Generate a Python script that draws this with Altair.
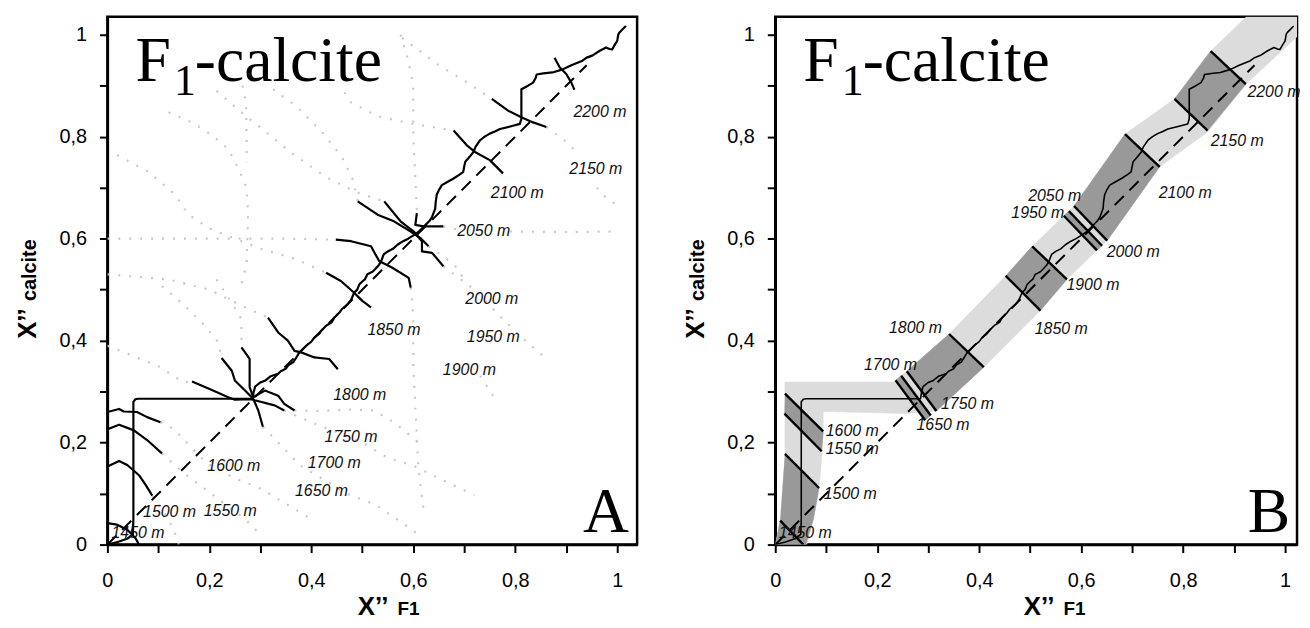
import altair as alt
import pandas as pd

XMAX_A = 1.039
XMAX_B = 1.0234
YMAX = 1.035

# ---------------- main path (same on both panels) ----------------
path_x = [0, 0.02, 0.04, 0.05, 0.051, 0.051, 0.055, 0.06, 0.15, 0.285, 0.287, 0.29, 0.30, 0.31, 0.32,
          0.335, 0.34, 0.35, 0.355, 0.365, 0.37, 0.376, 0.385, 0.39, 0.40, 0.405, 0.415, 0.42, 0.43,
          0.44, 0.445, 0.455, 0.46, 0.47, 0.478, 0.484, 0.49, 0.494, 0.50, 0.505, 0.51, 0.52, 0.525,
          0.533, 0.537, 0.542, 0.55, 0.56, 0.569, 0.58, 0.59, 0.601, 0.61, 0.617, 0.625, 0.632, 0.637,
          0.643, 0.644, 0.646, 0.65, 0.656, 0.665, 0.679, 0.69, 0.698, 0.70, 0.702, 0.71, 0.718, 0.722,
          0.731, 0.74, 0.75, 0.76, 0.77, 0.79, 0.809, 0.812, 0.812, 0.812, 0.825, 0.835, 0.84, 0.842,
          0.855, 0.873, 0.893, 0.91, 0.932, 0.94, 0.951, 0.965, 0.978, 0.985, 0.99, 0.995, 1.0, 1.002,
          1.004, 1.01, 1.017]
path_y = [0, 0.005, 0.012, 0.02, 0.05, 0.28, 0.285, 0.286, 0.286, 0.286, 0.30, 0.31, 0.318, 0.322, 0.33,
          0.335, 0.34, 0.345, 0.352, 0.358, 0.366, 0.376, 0.385, 0.39, 0.398, 0.405, 0.413, 0.42, 0.43,
          0.436, 0.445, 0.455, 0.462, 0.47, 0.48, 0.494, 0.50, 0.51, 0.516, 0.52, 0.53, 0.535, 0.54,
          0.549, 0.556, 0.569, 0.575, 0.58, 0.588, 0.595, 0.60, 0.607, 0.613, 0.62, 0.628, 0.635, 0.643,
          0.659, 0.672, 0.686, 0.695, 0.705, 0.71, 0.718, 0.725, 0.731, 0.742, 0.751, 0.76, 0.77, 0.78,
          0.793, 0.80, 0.806, 0.81, 0.815, 0.82, 0.825, 0.835, 0.848, 0.893, 0.90, 0.906, 0.915, 0.922,
          0.924, 0.926, 0.932, 0.94, 0.949, 0.955, 0.959, 0.968, 0.975, 0.972, 0.971, 0.98, 0.988, 1.0,
          1.004, 1.01, 1.017]

diag_x = [0.0, 0.94]
diag_y = [0.0, 0.94]

# ---------------- panel A: solid depth contours ----------------
solid_A = [
    [(0, 0.042), (0.019, 0.039), (0.039, 0.029), (0.055, 0.013), (0.062, 0.0)],
    [(0, 0.153), (0.023, 0.164), (0.039, 0.156), (0.062, 0.136), (0.075, 0.117), (0.088, 0.096)],
    [(0, 0.226), (0.023, 0.235), (0.052, 0.224), (0.078, 0.205), (0.107, 0.179)],
    [(0, 0.26), (0.023, 0.266), (0.032, 0.261), (0.058, 0.26), (0.078, 0.25), (0.104, 0.24)],
    [(0.166, 0.320), (0.205, 0.303), (0.237, 0.289), (0.250, 0.284), (0.283, 0.285), (0.289, 0.283),
     (0.328, 0.273), (0.347, 0.263)],
    [(0.224, 0.366), (0.244, 0.341), (0.250, 0.322), (0.270, 0.302), (0.286, 0.286), (0.296, 0.263),
     (0.305, 0.231)],
    [(0.263, 0.387), (0.279, 0.364), (0.279, 0.309), (0.286, 0.289), (0.309, 0.302), (0.335, 0.292),
     (0.347, 0.276), (0.367, 0.263)],
    [(0.315, 0.445), (0.335, 0.416), (0.354, 0.400), (0.367, 0.380), (0.380, 0.377), (0.406, 0.367),
     (0.435, 0.364), (0.452, 0.344)],
    [(0.429, 0.533), (0.458, 0.517), (0.484, 0.494), (0.500, 0.478), (0.517, 0.465)],
    [(0.448, 0.598), (0.478, 0.595), (0.517, 0.585), (0.533, 0.556), (0.559, 0.543), (0.591, 0.523),
     (0.595, 0.504)],
    [(0.543, 0.673), (0.575, 0.634), (0.601, 0.614), (0.617, 0.595), (0.617, 0.575), (0.637, 0.572),
     (0.659, 0.546)],
    [(0.491, 0.673), (0.530, 0.647), (0.562, 0.634), (0.595, 0.614), (0.614, 0.601), (0.630, 0.585)],
    [(0.607, 0.650), (0.604, 0.627), (0.620, 0.624), (0.659, 0.624)],
    [(0.679, 0.812), (0.705, 0.783), (0.721, 0.770), (0.750, 0.754), (0.776, 0.728)],
    [(0.754, 0.874), (0.786, 0.851), (0.812, 0.838), (0.835, 0.828), (0.861, 0.819)],
    [(0.877, 0.955), (0.887, 0.936), (0.900, 0.923), (0.910, 0.906), (0.916, 0.892)],
]

# ---------------- panel A: dotted (extrapolated) contours ----------------
dotted_A = [
    [(0.088, 0.096), (0.11, 0.065), (0.13, 0.03), (0.14, 0.0)],
    [(0.107, 0.179), (0.15, 0.14), (0.19, 0.11), (0.23, 0.08), (0.27, 0.05), (0.3, 0.02)],
    [(0.104, 0.24), (0.13, 0.227), (0.165, 0.19), (0.195, 0.159), (0.25, 0.13), (0.3, 0.11),
     (0.35, 0.08), (0.4, 0.05)],
    [(0.0, 0.39), (0.05, 0.37), (0.1, 0.35), (0.149, 0.318), (0.166, 0.32)],
    [(0.107, 0.507), (0.15, 0.47), (0.19, 0.43), (0.218, 0.396), (0.224, 0.366)],
    [(0.214, 0.52), (0.24, 0.48), (0.263, 0.442), (0.263, 0.387)],
    [(0.347, 0.263), (0.4, 0.24), (0.45, 0.22), (0.5, 0.2), (0.55, 0.17), (0.6, 0.155), (0.65, 0.13),
     (0.72, 0.097)],
    [(0.305, 0.231), (0.345, 0.19), (0.377, 0.156), (0.42, 0.13), (0.47, 0.1), (0.526, 0.078),
     (0.575, 0.045), (0.61, 0.02)],
    [(0.367, 0.263), (0.42, 0.262), (0.48, 0.265), (0.523, 0.263), (0.565, 0.238), (0.61, 0.2)],
    [(0.595, 0.504), (0.6, 0.45), (0.6, 0.35), (0.605, 0.25), (0.61, 0.15), (0.62, 0.07)],
    [(0.0, 0.53), (0.06, 0.525), (0.12, 0.52), (0.2, 0.5), (0.26, 0.47), (0.315, 0.445)],
    [(0.019, 0.764), (0.081, 0.731), (0.133, 0.686), (0.159, 0.647), (0.2, 0.62), (0.3, 0.58),
     (0.37, 0.56), (0.429, 0.533)],
    [(0.0, 0.60), (0.2, 0.6), (0.35, 0.6), (0.448, 0.598)],
    [(0.12, 0.848), (0.166, 0.828), (0.205, 0.803), (0.237, 0.776), (0.257, 0.737), (0.273, 0.7),
     (0.276, 0.65), (0.273, 0.55), (0.26, 0.5)],
    [(0.265, 0.9), (0.272, 0.867), (0.273, 0.8), (0.273, 0.75)],
    [(0.214, 0.89), (0.26, 0.85), (0.31, 0.81), (0.364, 0.766), (0.43, 0.72), (0.491, 0.69),
     (0.543, 0.673)],
    [(0.325, 0.893), (0.37, 0.86), (0.42, 0.81), (0.46, 0.76), (0.48, 0.72), (0.491, 0.673)],
    [(0.659, 0.546), (0.72, 0.5), (0.776, 0.442), (0.82, 0.4), (0.858, 0.367)],
    [(0.630, 0.585), (0.68, 0.55), (0.7, 0.52)],
    [(0.659, 0.624), (0.69, 0.617)],
    [(0.79, 0.614), (0.9, 0.613), (1.0, 0.614)],
    [(0.575, 1.0), (0.59, 0.95), (0.6, 0.9), (0.6, 0.8), (0.605, 0.7), (0.607, 0.65)],
    [(0.465, 0.887), (0.478, 0.867), (0.53, 0.84), (0.6, 0.825), (0.679, 0.812)],
    [(0.578, 0.994), (0.65, 0.94), (0.7, 0.91), (0.754, 0.874)],
    [(0.861, 0.819), (0.9, 0.79), (0.92, 0.77)],
    [(0.96, 0.7), (0.98, 0.678), (1.01, 0.66)],
    [(0.731, 0.331), (0.745, 0.31), (0.76, 0.287)],
]

# ---------------- depth labels ----------------
depths = ["1450 m", "1500 m", "1550 m", "1600 m", "1650 m", "1700 m", "1750 m", "1800 m",
          "1850 m", "1900 m", "1950 m", "2000 m", "2050 m", "2100 m", "2150 m", "2200 m"]
labA_x = [0.060, 0.122, 0.241, 0.248, 0.420, 0.445, 0.478, 0.495,
          0.562, 0.710, 0.757, 0.754, 0.738, 0.804, 0.958, 0.966]
labA_y = [0.023, 0.063, 0.065, 0.155, 0.106, 0.159, 0.211, 0.294,
          0.420, 0.343, 0.408, 0.482, 0.615, 0.689, 0.737, 0.849]
labB_x = [0.059, 0.147, 0.151, 0.151, 0.329, 0.226, 0.377, 0.275,
          0.561, 0.623, 0.515, 0.702, 0.548, 0.804, 0.906, 0.978]
labB_y = [0.023, 0.099, 0.187, 0.222, 0.235, 0.353, 0.275, 0.424,
          0.423, 0.510, 0.650, 0.573, 0.683, 0.689, 0.792, 0.887]

# ---------------- panel B: band and depth ticks ----------------
light_band = [(0.0, 0.0), (0.062, 0.0), (0.081, 0.086), (0.088, 0.131), (0.094, 0.215), (0.094, 0.261),
              (0.257, 0.257), (0.316, 0.262), (0.409, 0.348), (0.520, 0.459), (0.572, 0.520),
              (0.650, 0.596), (0.754, 0.741), (0.848, 0.809), (0.923, 0.903), (1.0234, 0.996),
              (1.0234, 1.035), (0.924, 1.035), (0.854, 0.968), (0.783, 0.874), (0.686, 0.805),
              (0.586, 0.664), (0.566, 0.645), (0.504, 0.585), (0.452, 0.527), (0.341, 0.413),
              (0.258, 0.340), (0.231, 0.319), (0.019, 0.319), (0.019, 0.177), (0.0097, 0.047)]
dark_bands = [
    [(0.019, 0.178), (0.086, 0.111), (0.075, 0.05), (0.06, 0.0), (0.0, 0.0), (0.0097, 0.047)],
    [(0.019, 0.296), (0.094, 0.222), (0.091, 0.183), (0.018, 0.257)],
    [(0.236, 0.322), (0.247, 0.331), (0.305, 0.253), (0.294, 0.244)],
    [(0.258, 0.340), (0.341, 0.413), (0.409, 0.348), (0.316, 0.262)],
    [(0.452, 0.527), (0.504, 0.585), (0.572, 0.520), (0.520, 0.459)],
    [(0.566, 0.645), (0.576, 0.654), (0.641, 0.586), (0.631, 0.577)],
    [(0.586, 0.664), (0.686, 0.805), (0.754, 0.741), (0.651, 0.596)],
    [(0.783, 0.874), (0.854, 0.968), (0.923, 0.903), (0.848, 0.812)],
]
ticks_B = [
    [(0.0097, 0.047), (0.055, 0.0)],
    [(0.019, 0.178), (0.086, 0.111)],
    [(0.018, 0.257), (0.091, 0.183)],
    [(0.019, 0.296), (0.094, 0.222)],
    [(0.236, 0.322), (0.294, 0.244)],
    [(0.247, 0.331), (0.305, 0.253)],
    [(0.258, 0.340), (0.316, 0.262)],
    [(0.341, 0.413), (0.409, 0.348)],
    [(0.452, 0.527), (0.520, 0.459)],
    [(0.504, 0.585), (0.572, 0.520)],
    [(0.566, 0.645), (0.631, 0.577)],
    [(0.576, 0.654), (0.641, 0.586)],
    [(0.586, 0.664), (0.651, 0.596)],
    [(0.686, 0.805), (0.754, 0.741)],
    [(0.783, 0.874), (0.848, 0.812)],
    [(0.854, 0.968), (0.923, 0.903)],
]

# ---------------- title pieces ----------------
title_parts = ["F", "1", "-calcite"]
title_x = [0.055, 0.1306, 0.1715]
title_y = [0.909, 0.881, 0.909]
title_size = [64, 44, 64]


def seg_df(segs):
    rows = []
    for i, seg in enumerate(segs):
        for j, (x, y) in enumerate(seg):
            rows.append({"id": i, "o": j, "x": x, "y": y})
    return pd.DataFrame(rows)


tick_vals = [round(i * 0.1, 1) for i in range(11)]
label_expr = "round(datum.value*10) % 2 == 0 ? replace(format(datum.value, '~g'), '.', ',') : ''"
yscale = alt.Scale(domain=[0, YMAX], nice=False, zero=False)
Y = alt.Y("y:Q", scale=yscale,
          axis=alt.Axis(values=tick_vals, labelExpr=label_expr, title=None, labelOverlap=False,
                        ticks=True, tickSize=8, tickWidth=2, tickColor="black", labelPadding=13))


def make_x(xmax):
    return alt.X("x:Q", scale=alt.Scale(domain=[0, xmax], nice=False, zero=False),
                 axis=alt.Axis(values=tick_vals, labelExpr=label_expr, title=None, labelFlush=False,
                               labelOverlap=False, ticks=True, tickSize=8, tickWidth=2,
                               tickColor="black", labelPadding=18))


path_df = pd.DataFrame({"x": path_x, "y": path_y, "o": range(len(path_x))})
diag_df = pd.DataFrame({"x": diag_x, "y": diag_y, "o": [0, 1]})


def common_layers(X, path_width):
    diag = alt.Chart(diag_df).mark_line(color="black", strokeWidth=2, strokeDash=[13, 8], clip=True).encode(
        x=X, y=Y, order="o:Q")
    path = alt.Chart(path_df).mark_line(color="black", strokeWidth=path_width, clip=True,
                                        strokeJoin="round").encode(x=X, y=Y, order="o:Q")
    return diag, path


def title_layer(X):
    tdf = pd.DataFrame({"x": title_x, "y": title_y, "t": title_parts, "s": title_size})
    return alt.Chart(tdf).mark_text(font="Liberation Serif", align="left", baseline="alphabetic",
                                    color="black").encode(
        x=X, y=Y, text="t:N", size=alt.Size("s:Q", scale=None, legend=None))


def letter_layer(X, letter, lx, ly):
    ldf = pd.DataFrame({"x": [lx], "y": [ly], "t": [letter]})
    return alt.Chart(ldf).mark_text(font="Liberation Serif", fontSize=64, align="right",
                                    baseline="alphabetic", color="black").encode(x=X, y=Y, text="t:N")


def label_layer(X, lx, ly):
    ldf = pd.DataFrame({"x": lx, "y": ly, "t": depths})
    return alt.Chart(ldf).mark_text(font="Liberation Sans", fontSize=16, fontStyle="italic",
                                    align="center", baseline="middle", color="#111111").encode(
        x=X, y=Y, text="t:N")


def axis_titles(xt_left, sub_x):
    """Axis titles with a large 'X’’' and smaller bold suffix (placed in pixels around the plot)."""
    base = alt.Chart(pd.DataFrame({"a": [0]}))
    common = dict(font="Liberation Sans", fontWeight="bold", color="black", baseline="alphabetic",
                  align="left")
    xt1 = base.mark_text(fontSize=26, **common).encode(x=alt.value(xt_left), y=alt.value(602),
                                                       text=alt.value("X’’"))
    xt2 = base.mark_text(fontSize=19, **common).encode(x=alt.value(xt_left + 40), y=alt.value(602),
                                                       text=alt.value("F1"))
    yt1 = base.mark_text(fontSize=26, angle=270, **common).encode(x=alt.value(sub_x), y=alt.value(324),
                                                                  text=alt.value("X’’"))
    yt2 = base.mark_text(fontSize=20, angle=270, **common).encode(x=alt.value(sub_x), y=alt.value(286),
                                                                  text=alt.value("calcite"))
    return [xt1, xt2, yt1, yt2]


# ---- panel A ----
XA = make_x(XMAX_A)
dotA = alt.Chart(seg_df(dotted_A)).mark_line(color="#c8c8c8", strokeWidth=2.2, strokeDash=[2, 9],
                                             clip=True).encode(x=XA, y=Y, detail="id:N", order="o:Q")
solA = alt.Chart(seg_df(solid_A)).mark_line(color="black", strokeWidth=2.2, clip=True,
                                            strokeJoin="round").encode(x=XA, y=Y, detail="id:N", order="o:Q")
diagA, pathA = common_layers(XA, 2.2)
panelA = alt.layer(dotA, diagA, solA, pathA, label_layer(XA, labA_x, labA_y), title_layer(XA),
                   letter_layer(XA, "A", 1.023, 0.025), *axis_titles(252, -72)).properties(width=533, height=531)

# ---- panel B ----
XB = make_x(XMAX_B)
lightB = alt.Chart(seg_df([light_band])).mark_line(clip=True, strokeWidth=0.5).encode(
    x=XB, y=Y, detail="id:N", order="o:Q", fill=alt.value("#dcdcdc"), stroke=alt.value("#dcdcdc"))
darkB = alt.Chart(seg_df(dark_bands)).mark_line(clip=True, strokeWidth=0.5).encode(
    x=XB, y=Y, detail="id:N", order="o:Q", fill=alt.value("#999999"), stroke=alt.value("#999999"))
ticksB = alt.Chart(seg_df(ticks_B)).mark_line(color="black", strokeWidth=2.4, clip=True).encode(
    x=XB, y=Y, detail="id:N", order="o:Q")
diagB, pathB = common_layers(XB, 1.6)
panelB = alt.layer(lightB, darkB, diagB, pathB, ticksB, label_layer(XB, labB_x, labB_y), title_layer(XB),
                   letter_layer(XB, "B", 1.01, 0.025), *axis_titles(250, -72)).properties(width=525, height=531)

chart = alt.hconcat(panelA, panelB, spacing=42).properties(
    padding={"left": 5, "top": 5, "right": 0, "bottom": 0}
).configure_view(
    stroke="black", strokeWidth=2.5
).configure_axis(
    grid=False, domainColor="black", domainWidth=2.5,
    labelFont="Liberation Sans", labelFontSize=20, labelColor="black"
)

chart.save("out.html", embed_options={"renderer": "svg", "actions": False})
